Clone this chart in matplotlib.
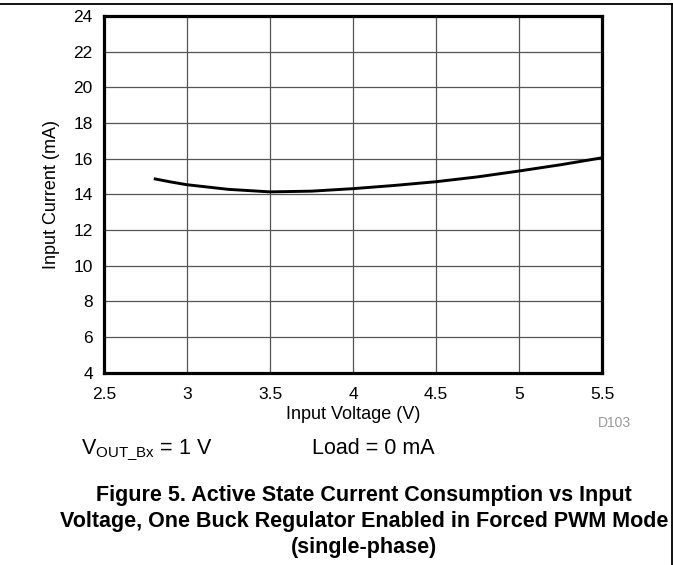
import matplotlib
matplotlib.use("Agg")
import matplotlib.pyplot as plt
from matplotlib.lines import Line2D

plt.rcParams["font.family"] = ["Liberation Sans", "DejaVu Sans"]

# Curve
v_in = [2.8, 2.9, 3.0, 3.25, 3.5, 3.75, 4.0, 4.25, 4.5, 4.75, 5.0, 5.25, 5.5]
i_in = [14.88, 14.70, 14.54, 14.28, 14.14, 14.18, 14.32, 14.50, 14.71, 14.98, 15.31, 15.66, 16.05]

x_ticks = [2.5, 3, 3.5, 4, 4.5, 5, 5.5]
x_tick_labels = ["2.5", "3", "3.5", "4", "4.5", "5", "5.5"]
y_ticks = list(range(4, 25, 2))

fig = plt.figure(figsize=(6.73, 5.65), dpi=100)
ax = fig.add_axes([0.1545, 0.3405, 0.7400, 0.6310])

ax.plot(v_in, i_in, color="black", lw=2.1, solid_capstyle="butt", zorder=3)

ax.set_xlim(2.5, 5.5)
ax.set_ylim(4, 24)
ax.set_xticks(x_ticks)
ax.set_xticklabels(x_tick_labels)
ax.set_yticks(y_ticks)
ax.tick_params(length=0, labelsize=12.5)
ax.tick_params(axis="x", pad=10)
ax.tick_params(axis="y", pad=8)
ax.grid(True, color="#555555", lw=0.9)
for s in ax.spines.values():
    s.set_linewidth(2.3)
    s.set_zorder(4)

ax.set_xlabel("Input Voltage (V)", fontsize=13, labelpad=3)
ax.set_ylabel("Input Current (mA)", fontsize=13, labelpad=10)

fig.text(0.938, 0.251, "D103", fontsize=10, color="#999999", ha="right", va="center")
fig.text(0.121, 0.1965, r"V$_{\mathregular{OUT\_Bx}}$ = 1 V", fontsize=15.5,
         ha="left", va="baseline")
fig.text(0.464, 0.1965, "Load = 0 mA", fontsize=15.5, ha="left", va="baseline")

caption = ("Figure 5. Active State Current Consumption vs Input\n"
           "Voltage, One Buck Regulator Enabled in Forced PWM Mode\n"
           "(single-phase)")
fig.text(0.541, 0.077, caption, fontsize=15.5, fontweight="bold", ha="center",
         va="center", linespacing=1.33)

# page border lines from the datasheet
fig.add_artist(Line2D([0, 0.9985], [0.9925, 0.9925], color="black", lw=1.3,
                      transform=fig.transFigure))
fig.add_artist(Line2D([0.9985, 0.9985], [0, 0.9925], color="black", lw=1.3,
                      transform=fig.transFigure))

fig.savefig("out.png", dpi=100)
